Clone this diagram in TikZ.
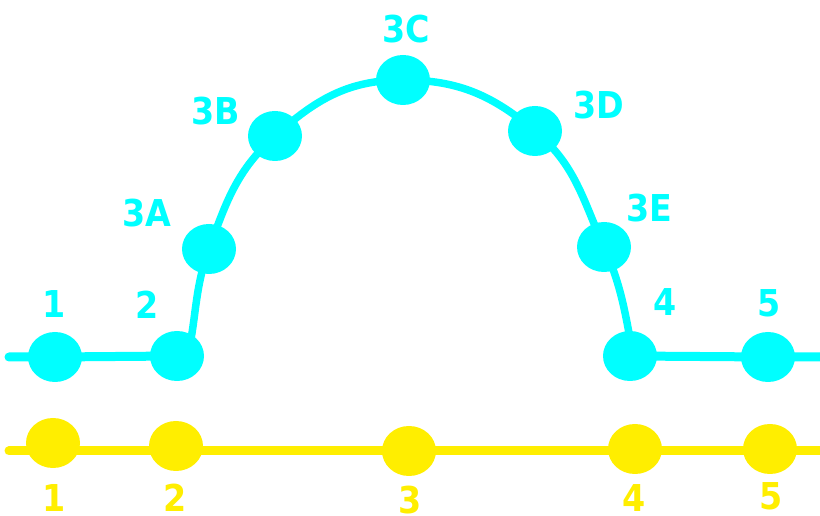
\documentclass[tikz,border=0pt]{standalone}
\usepackage{fontspec}
\newfontfamily\lblfont{DejaVu Sans Condensed}[BoldFont={DejaVu Sans Condensed Bold}]
\usetikzlibrary{shapes.geometric}
\definecolor{cy}{RGB}{0,255,255}
\definecolor{ye}{RGB}{255,238,0}
\tikzset{
  dot/.style={ellipse, fill=#1, draw=none, minimum width=54pt, minimum height=50pt, inner sep=0pt},
  wire/.style={draw=#1, line width=9pt, line cap=round},
  arcwire/.style={draw=#1, line width=7.5pt, line cap=round},
  lbl/.style={text=#1, inner sep=0pt, font=\lblfont\bfseries\fontsize{37}{37}\selectfont},
}
\begin{document}
\begin{tikzpicture}[x=1pt,y=1pt]
\useasboundingbox (0,0) rectangle (820,516);
% free ends and arc ends
\coordinate (cs) at (9,159);
\coordinate (ce) at (820,159);
\coordinate (a2) at (188,161);
\coordinate (a4) at (633,162);
\coordinate (ys) at (9,65);
\coordinate (ye) at (820,65);
% cyan nodes
\node[dot=cy] (c1) at (55,159) {};
\node[dot=cy] (c2) at (177,160) {};
\node[dot=cy] (c3A) at (209,267) {};
\node[dot=cy] (c3B) at (275,380) {};
\node[dot=cy] (c3C) at (403,436) {};
\node[dot=cy] (c3D) at (535,385) {};
\node[dot=cy] (c3E) at (604,269) {};
\node[dot=cy] (c4) at (630,160) {};
\node[dot=cy] (c5) at (768,159) {};
% yellow nodes
\node[dot=ye] (y1) at (53,73) {};
\node[dot=ye] (y2) at (176,70) {};
\node[dot=ye] (y3) at (409,65) {};
\node[dot=ye] (y4) at (635,67) {};
\node[dot=ye] (y5) at (770,67) {};
% straight connectors
\draw[wire=cy] (cs) -- (c1.center) -- (c2.center);
\draw[wire=cy] (c4.center) -- (c5.center) -- (ce);
\draw[wire=ye] (ys) -- (y1.center |- ys) -- (y2.center |- ys) -- (y3.center) -- (y4.center |- ys) -- (y5.center |- ys) -- (ye);
% arc connector
\draw[arcwire=cy] (a2) to[out=78,in=250] (c3A.center) to[out=70,in=222] (c3B.center)
  to[out=42,in=180] (c3C.center) to[out=0,in=140] (c3D.center) to[out=-40,in=114] (c3E.center)
  to[out=-66,in=101] (a4);
% cyan labels
\node[lbl=cy] (l1) at (54,212) {1};
\node[lbl=cy] (l2) at (147,211) {2};
\node[lbl=cy] (l3A) at (147,303) {3A};
\node[lbl=cy] (l3B) at (216,405) {3B};
\node[lbl=cy] (l3C) at (406,487) {3C};
\node[lbl=cy] (l3D) at (599,411) {3D};
\node[lbl=cy] (l3E) at (649,308) {3E};
\node[lbl=cy] (l4) at (665,214) {4};
\node[lbl=cy] (l5) at (769,213) {5};
% yellow labels
\node[lbl=ye] (m1) at (54,18) {1};
\node[lbl=ye] (m2) at (175,18) {2};
\node[lbl=ye] (m3) at (410,16) {3};
\node[lbl=ye] (m4) at (634,18) {4};
\node[lbl=ye] (m5) at (771,20) {5};
\end{tikzpicture}
\end{document}
